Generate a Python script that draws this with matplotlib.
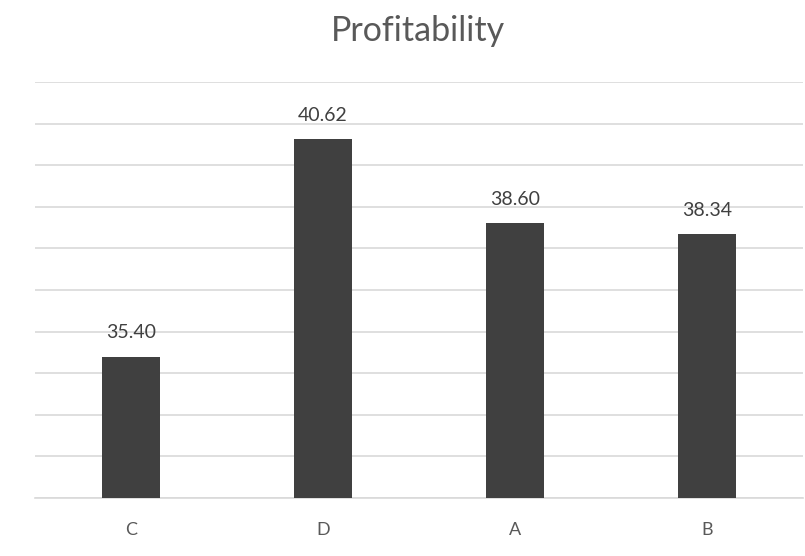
import matplotlib.pyplot as plt
import numpy as np

categories = ["C", "D", "A", "B"]
values = [35.40, 40.62, 38.60, 38.34]

plt.rcParams['font.family'] = ['Lato', 'DejaVu Sans']

fig = plt.figure(figsize=(8.05, 5.56), dpi=100)
ax = fig.add_axes([35 / 805, 1 - 498 / 556, 768 / 805, (498 - 82) / 556])

x = np.arange(len(categories))
ax.bar(x, values, width=0.30, color="#404040", zorder=3)

ax.set_ylim(32, 42)
ax.set_xlim(-0.5, len(categories) - 0.5)
ax.set_yticks(np.arange(32, 43, 1))
ax.yaxis.grid(True, color="#d9d9d9", linewidth=1.2, zorder=0)
ax.tick_params(axis="y", left=False, labelleft=False)
ax.tick_params(axis="x", bottom=False, labelsize=13, labelcolor="#595959", pad=14)
ax.set_xticks(x)
ax.set_xticklabels(categories)
for s in ["top", "right", "left"]:
    ax.spines[s].set_visible(False)
ax.spines["bottom"].set_color("#d9d9d9")
ax.spines["bottom"].set_linewidth(1.2)

for xi, v in zip(x, values):
    ax.annotate(f"{v:.2f}", (xi, v), xytext=(0, 11), textcoords="offset points",
                ha="center", va="bottom", fontsize=14, color="#404040")

fig.text(418 / 805, 1 - 31 / 556, "Profitability", ha="center", va="center",
         fontsize=24.5, color="#595959")

fig.savefig("out.png", dpi=100)
